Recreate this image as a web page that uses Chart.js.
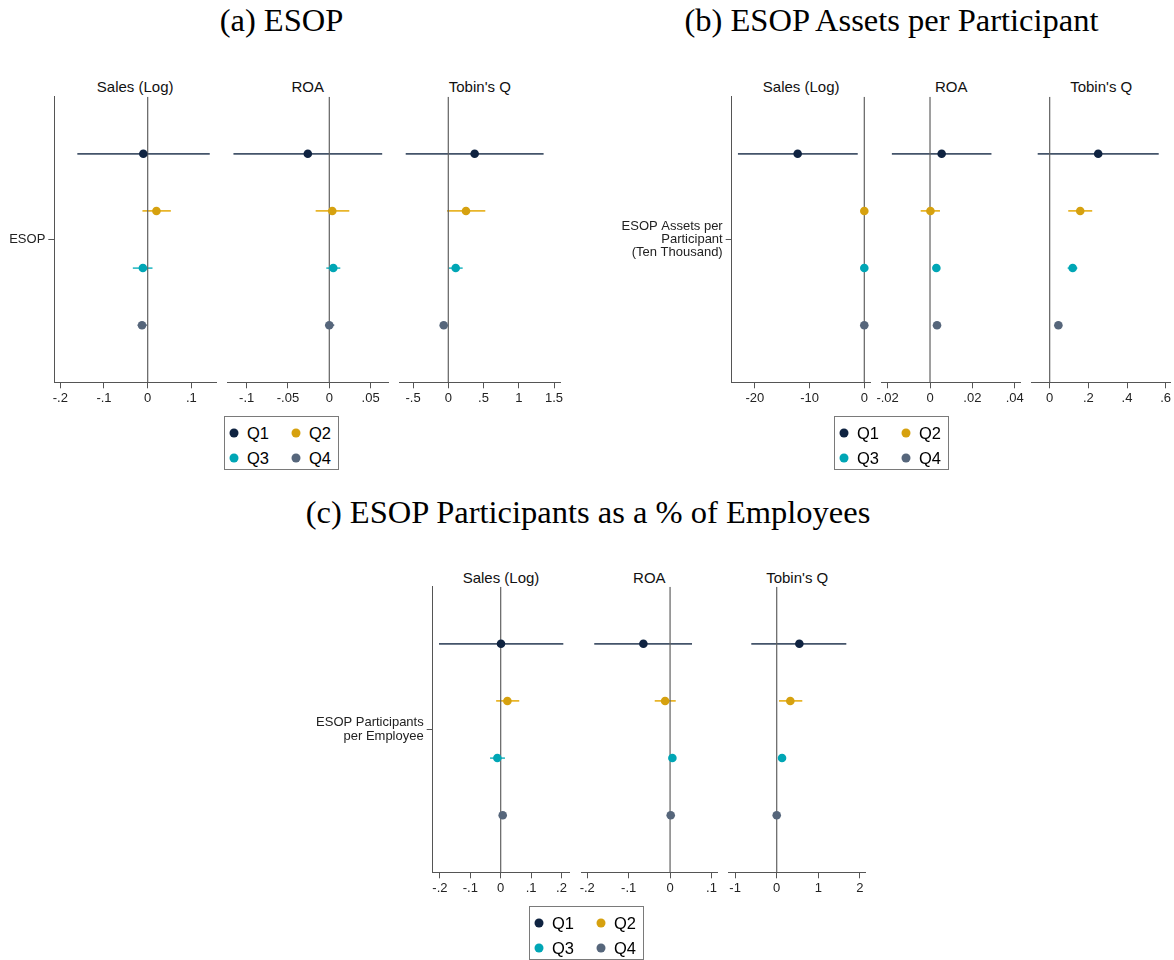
<!DOCTYPE html>
<html><head><meta charset="utf-8">
<script src="https://cdn.jsdelivr.net/npm/chart.js@4.4.0/dist/chart.umd.min.js"></script>
<style>
body{margin:0;background:#fff;width:1174px;height:960px;position:relative;overflow:hidden;font-family:Arial,"Liberation Sans",sans-serif;}
.gt{position:absolute;font-family:"Liberation Serif",serif;font-size:32.5px;color:#000;white-space:nowrap;transform:translate(-50%,-50%);line-height:1;}
.pt{position:absolute;font-size:15px;color:#111;white-space:nowrap;transform:translate(-50%,-50%);line-height:1;}
canvas{position:absolute;}
.leg{position:absolute;border:1px solid #7a7a7a;box-sizing:border-box;width:115px;height:54px;background:#fff;}
.dot{position:absolute;width:9px;height:9px;border-radius:50%;transform:translate(-50%,-50%);}
.lt{position:absolute;font-size:16.5px;color:#000;transform:translateY(-50%);line-height:1;}
</style></head>
<body>
<script>
// ---------- data ----------
const quartiles = ['Q1', 'Q2', 'Q3', 'Q4'];
const rowPos = [1, 2, 3, 4];
const outcomes = ['Sales (Log)', 'ROA', "Tobin's Q"];
const groupTitles = ['(a) ESOP', '(b) ESOP Assets per Participant', '(c) ESOP Participants as a % of Employees'];
const rowLabels = [['ESOP'], ['ESOP Assets per', 'Participant', '(Ten Thousand)'], ['ESOP Participants', 'per Employee']];

// (a) ESOP
const aSalesCoef = [-0.010, 0.020, -0.011, -0.013];
const aSalesLo   = [-0.161, -0.012, -0.034, -0.023];
const aSalesHi   = [0.142, 0.053, 0.011, -0.002];
const aRoaCoef = [-0.026, 0.0036, 0.0048, 0.0000];
const aRoaLo   = [-0.116, -0.0165, -0.0036, -0.005];
const aRoaHi   = [0.064, 0.0242, 0.0133, 0.006];
const aTqCoef = [0.374, 0.251, 0.105, -0.065];
const aTqLo   = [-0.604, -0.018, 0.010, -0.085];
const aTqHi   = [1.352, 0.525, 0.204, -0.045];

// (b) ESOP Assets per Participant
const bSalesCoef = [-12.18, 0.0, 0.0, 0.0];
const bSalesLo   = [-23.1, -0.1, -0.1, -0.1];
const bSalesHi   = [-1.2, 0.1, 0.1, 0.1];
const bRoaCoef = [0.0055, 0.0002, 0.0030, 0.0033];
const bRoaLo   = [-0.018, -0.0044, 0.0018, 0.0025];
const bRoaHi   = [0.029, 0.0047, 0.0042, 0.0041];
const bTqCoef = [0.251, 0.158, 0.119, 0.045];
const bTqLo   = [-0.062, 0.096, 0.093, 0.038];
const bTqHi   = [0.564, 0.220, 0.143, 0.052];

// (c) ESOP Participants per Employee
const cSalesCoef = [0.001, 0.022, -0.011, 0.0066];
const cSalesLo   = [-0.203, -0.015, -0.035, -0.003];
const cSalesHi   = [0.206, 0.061, 0.014, 0.016];
const cRoaCoef = [-0.0644, -0.012, 0.0056, 0.0016];
const cRoaLo   = [-0.183, -0.037, 0.0026, -0.002];
const cRoaHi   = [0.053, 0.0137, 0.0086, 0.005];
const cTqCoef = [0.544, 0.327, 0.128, 0.000];
const cTqLo   = [-0.611, 0.055, 0.030, -0.03];
const cTqHi   = [1.673, 0.615, 0.224, 0.03];

// tick values and labels
const aSalesTicks = [-0.2, -0.1, 0, 0.1];         const aSalesTickLabels = ['-.2', '-.1', '0', '.1'];
const aRoaTicks = [-0.1, -0.05, 0, 0.05];         const aRoaTickLabels = ['-.1', '-.05', '0', '.05'];
const aTqTicks = [-0.5, 0, 0.5, 1, 1.5];          const aTqTickLabels = ['-.5', '0', '.5', '1', '1.5'];
const bSalesTicks = [-20, -10, 0];                const bSalesTickLabels = ['-20', '-10', '0'];
const bRoaTicks = [-0.02, 0, 0.02, 0.04];         const bRoaTickLabels = ['-.02', '0', '.02', '.04'];
const bTqTicks = [0, 0.2, 0.4, 0.6];              const bTqTickLabels = ['0', '.2', '.4', '.6'];
const cSalesTicks = [-0.2, -0.1, 0, 0.1, 0.2];    const cSalesTickLabels = ['-.2', '-.1', '0', '.1', '.2'];
const cRoaTicks = [-0.2, -0.1, 0, 0.1];           const cRoaTickLabels = ['-.2', '-.1', '0', '.1'];
const cTqTicks = [-1, 0, 1, 2];                   const cTqTickLabels = ['-1', '0', '1', '2'];

// ---------- styling / layout ----------
const markerColors = ['#0f2341', '#d6a10f', '#00a6b5', '#56667b'];
const ciColors = ['#44546a', '#e8b52a', '#3cbfc8', '#6a7a8f'];
const axisColor = '#555';
const zeroColor = '#606060';

const groups = [
  { top: 96.7, bottom: 382.3, canvasLeft: 0, titleX: 281.5, titleY: 20, ptY: 86, legX: 224, legY: 416,
    panels: [
      { L: 54.3, R: 216, min: -0.2137, max: 0.1563, coef: aSalesCoef, lo: aSalesLo, hi: aSalesHi, ticks: aSalesTicks, tl: aSalesTickLabels },
      { L: 227, R: 388.3, min: -0.1238, max: 0.0714, coef: aRoaCoef, lo: aRoaLo, hi: aRoaHi, ticks: aRoaTicks, tl: aRoaTickLabels },
      { L: 399.3, R: 560.3, min: -0.695, max: 1.589, coef: aTqCoef, lo: aTqLo, hi: aTqHi, ticks: aTqTicks, tl: aTqTickLabels }
    ] },
  { top: 96.7, bottom: 382.3, canvasLeft: 600, titleX: 891.5, titleY: 20, ptY: 86, legX: 834, legY: 416,
    panels: [
      { L: 731.7, R: 870.7, min: -24.24, max: 1.17, coef: bSalesCoef, lo: bSalesLo, hi: bSalesHi, ticks: bSalesTicks, tl: bSalesTickLabels },
      { L: 881.7, R: 1020.7, min: -0.0228, max: 0.0428, coef: bRoaCoef, lo: bRoaLo, hi: bRoaHi, ticks: bRoaTicks, tl: bRoaTickLabels },
      { L: 1031.7, R: 1170.7, min: -0.093, max: 0.626, coef: bTqCoef, lo: bTqLo, hi: bTqHi, ticks: bTqTicks, tl: bTqTickLabels }
    ] },
  { top: 586.7, bottom: 872.3, canvasLeft: 300, titleX: 588, titleY: 512, ptY: 577, legX: 529, legY: 906,
    panels: [
      { L: 432.7, R: 569.3, min: -0.2237, max: 0.2257, coef: cSalesCoef, lo: cSalesLo, hi: cSalesHi, ticks: cSalesTicks, tl: cSalesTickLabels },
      { L: 581, R: 717.7, min: -0.215, max: 0.115, coef: cRoaCoef, lo: cRoaLo, hi: cRoaHi, ticks: cRoaTicks, tl: cRoaTickLabels },
      { L: 728.7, R: 865.7, min: -1.154, max: 2.139, coef: cTqCoef, lo: cTqLo, hi: cTqHi, ticks: cTqTicks, tl: cTqTickLabels }
    ] }
];

const FONT = 'Arial, "Liberation Sans", sans-serif';
const padX = 24, padT = 30, xh = 30;

function addDiv(cls, text, x, y) {
  const d = document.createElement('div');
  d.className = cls; d.textContent = text;
  d.style.left = x + 'px'; d.style.top = y + 'px';
  document.body.appendChild(d);
  return d;
}

groups.forEach((g, gi) => {
  addDiv('gt', groupTitles[gi], g.titleX, g.titleY);
  g.panels.forEach((p, pi) => {
    const first = pi === 0;
    addDiv('pt', outcomes[pi], (p.L + p.R) / 2, g.ptY);
    const cl = first ? g.canvasLeft : Math.floor(p.L - padX);
    const ct = Math.floor(g.top - padT);
    const padLeft = first ? 0 : p.L - cl;
    const yw = p.L - cl;
    const padTop = g.top - ct;
    const W = Math.ceil(p.R + padX - cl);
    const H = Math.ceil(padTop + (g.bottom - g.top) + xh);
    const cv = document.createElement('canvas');
    cv.width = W; cv.height = H;
    cv.style.left = cl + 'px'; cv.style.top = ct + 'px';
    cv.style.width = W + 'px'; cv.style.height = H + 'px';
    document.body.appendChild(cv);

    const datasets = [];
    quartiles.forEach((q, qi) => {
      datasets.push({ label: q + ' CI', data: [{ x: p.lo[qi], y: rowPos[qi] }, { x: p.hi[qi], y: rowPos[qi] }],
        showLine: true, borderColor: ciColors[qi], borderWidth: 1.7, pointRadius: 0, order: 3 });
    });
    datasets.push({ label: 'zero', data: [{ x: 0, y: 0 }, { x: 0, y: 5 }], showLine: true,
      borderColor: zeroColor, borderWidth: 1.2, pointRadius: 0, order: 2 });
    quartiles.forEach((q, qi) => {
      datasets.push({ label: q, data: [{ x: p.coef[qi], y: rowPos[qi] }], pointRadius: 4.3,
        pointBackgroundColor: markerColors[qi], pointBorderWidth: 0, borderWidth: 0, order: 1 });
    });

    const yScale = {
      type: 'linear', min: 0, max: 5, reverse: true, display: first,
      afterBuildTicks: s => { s.ticks = [{ value: 2.5 }]; },
      ticks: { callback: () => rowLabels[gi], font: { size: 13, family: FONT, lineHeight: 1.03 }, color: '#222', padding: 3 },
      grid: { display: true, drawOnChartArea: false, drawTicks: true, tickLength: 6, color: axisColor, lineWidth: 1 },
      border: { display: true, color: axisColor, width: 1 }
    };
    if (first) yScale.afterFit = s => { s.width = yw; };

    new Chart(cv, {
      type: 'scatter',
      data: { datasets },
      options: {
        responsive: false, animation: false, events: [],
        layout: { padding: { left: padLeft, right: W - (p.R - cl), top: padTop, bottom: H - padTop - (g.bottom - g.top) - xh } },
        plugins: { legend: { display: false }, tooltip: { enabled: false }, title: { display: false } },
        scales: {
          x: {
            type: 'linear', min: p.min, max: p.max,
            afterBuildTicks: s => { s.ticks = p.ticks.map(v => ({ value: v })); },
            afterFit: s => { s.height = xh; },
            ticks: { callback: (v, i) => p.tl[i], font: { size: 13, family: FONT }, color: '#222', padding: 2,
              maxRotation: 0, autoSkip: false },
            grid: { display: true, drawOnChartArea: false, drawTicks: true, tickLength: 6, color: axisColor, lineWidth: 1 },
            border: { display: true, color: axisColor, width: 1 }
          },
          y: yScale
        }
      }
    });
  });

  // legend
  const leg = document.createElement('div');
  leg.className = 'leg';
  leg.style.left = g.legX + 'px'; leg.style.top = g.legY + 'px';
  quartiles.forEach((q, qi) => {
    const col = qi % 2, row = Math.floor(qi / 2);
    const dot = document.createElement('div');
    dot.className = 'dot';
    dot.style.background = markerColors[qi];
    dot.style.left = (9 + col * 62.4) + 'px';
    dot.style.top = (16 + row * 25) + 'px';
    leg.appendChild(dot);
    const t = document.createElement('div');
    t.className = 'lt'; t.textContent = q;
    t.style.left = (22 + col * 62) + 'px';
    t.style.top = (16 + row * 25) + 'px';
    leg.appendChild(t);
  });
  document.body.appendChild(leg);
});
</script>
</body></html>
